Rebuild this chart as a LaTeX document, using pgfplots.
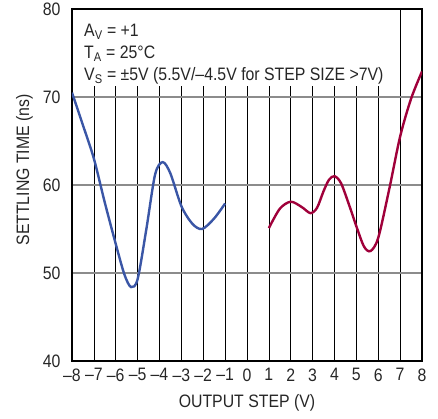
\documentclass[border=0pt]{standalone}
\usepackage{fontspec}
\setmainfont{Liberation Sans}[FakeStretch=0.88]
\usepackage{pgfplots}
\pgfplotsset{compat=1.18}
\definecolor{lblue}{HTML}{3A56A6}
\definecolor{lred}{HTML}{A0003A}
\begin{document}
\begin{tikzpicture}
\begin{axis}[
  scale only axis, width=350bp, height=352bp,
  xmin=-8, xmax=8, ymin=40, ymax=80,
  xtick={-8,-7,-6,-5,-4,-3,-2,-1,0,1,2,3,4,5,6,7,8},
  xticklabels={\textendash8,\textendash7,\textendash6,\textendash5,\textendash4,\textendash3,\textendash2,\textendash1,0,1,2,3,4,5,6,7,8},
  ytick={40,50,60,70,80},
  yticklabels={40,50,60,70,80},
  major tick length=0pt,
  xmajorgrids, ymajorgrids,
  x grid style={black, line width=0.7bp},
  y grid style={gray!90, line width=1.3bp},
  axis line style={black, line width=1.3bp},
  tick label style={font=\fontsize{18bp}{20bp}\selectfont, text=black!85},
  label style={font=\fontsize{18bp}{20bp}\selectfont, text=black!85},
  xticklabel style={yshift=-4bp, inner xsep=0pt},
  yticklabel style={xshift=-8bp},
  xlabel={OUTPUT STEP (V)},
  ylabel={SETTLING TIME (ns)},
  xlabel style={yshift=-6bp},
  ylabel style={at={(axis description cs:-0.136,0.543)}, anchor=center, rotate=0},
]
\fill[white] (axis cs:-7.96,71.25) rectangle (axis cs:6.96,79.9);
\node[anchor=north west, align=left, inner sep=0pt, text=black!85, font=\fontsize{18bp}{22bp}\selectfont] at (axis cs:-7.45,78.3)
 {A\textsubscript{V} = +1\\T\textsubscript{A} = 25°C\\V\textsubscript{S} = ±5V (5.5V/\textendash4.5V for STEP SIZE >7V)};
\addplot[color=lblue, line width=2.4bp, smooth, tension=0.5] coordinates {
(-8,70.5) (-7.5,66.8) (-7,63.0) (-6.5,58.0) (-6,53.3) (-5.6,49.8) (-5.3,48.4) (-5,49.3) (-4.6,55.0) (-4.2,61.2) (-3.85,62.6) (-3.5,61.3) (-3,57.6) (-2.5,55.6) (-2.05,55.0) (-1.5,56.2) (-1,57.9)
};
\addplot[color=lred, line width=2.4bp, smooth, tension=0.5] coordinates {
(1,55.1) (1.5,57.3) (2,58.1) (2.5,57.5) (2.9,56.8) (3.2,57.4) (3.5,59.3) (3.75,60.6) (4,61.0) (4.3,60.2) (4.7,57.5) (5,55.3) (5.35,53.0) (5.65,52.5) (6,54.0) (6.5,59.5) (7,65.5) (7.5,69.8) (8,72.9)
};
\end{axis}
\pgfresetboundingbox
\path[use as bounding box] (current axis.south west) ++(-72bp,-58bp) rectangle ([shift={(16bp,9bp)}]current axis.north east);
\end{tikzpicture}
\end{document}
